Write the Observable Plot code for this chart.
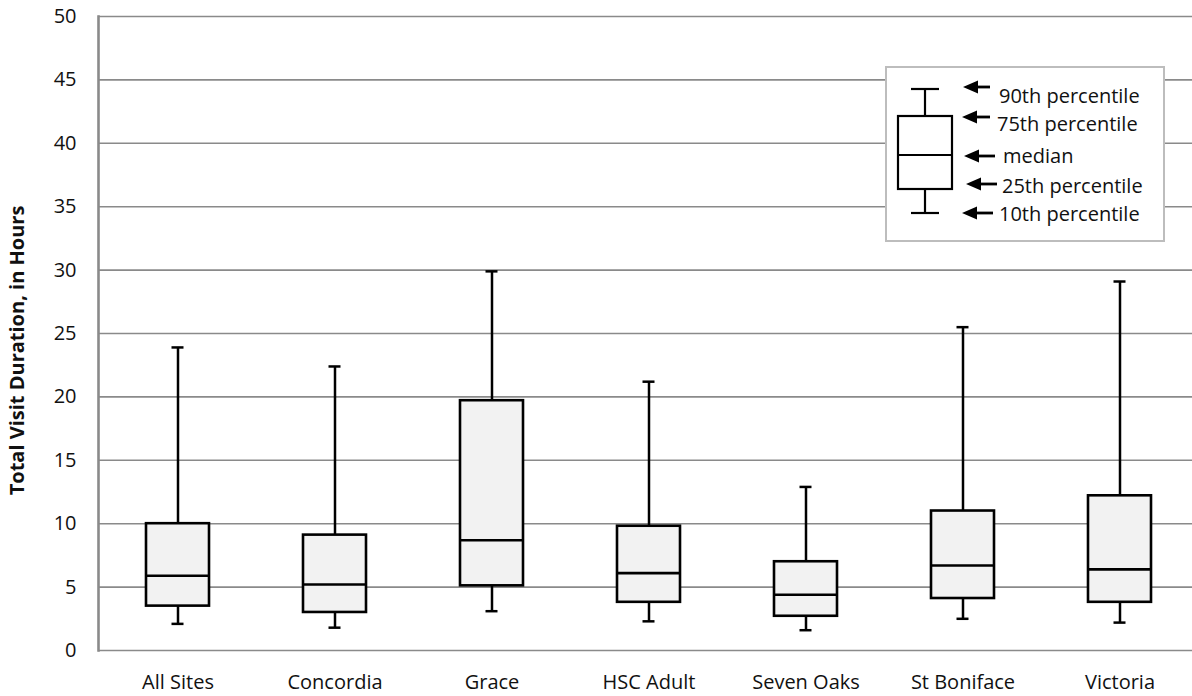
<!DOCTYPE html>
<html>
<head>
<meta charset="utf-8">
<script src="https://cdn.jsdelivr.net/npm/d3@7"></script>
<script src="https://cdn.jsdelivr.net/npm/@observablehq/plot@0.6"></script>
<style>
  html, body { margin: 0; padding: 0; background: #fff; overflow: hidden; }
  #chart { position: relative; width: 1192px; height: 696px; }
  #legend { position: absolute; left: 0; top: 0; pointer-events: none; }
</style>
</head>
<body>
<div id="chart"></div>
<script>
// Total visit duration by site (hours): 10th, 25th, median, 75th, 90th percentiles
const sites  = ["All Sites", "Concordia", "Grace", "HSC Adult", "Seven Oaks", "St Boniface", "Victoria"];
const p10    = [2.1, 1.8, 3.1, 2.3, 1.6, 2.5, 2.2];
const q1     = [3.5, 3.0, 5.1, 3.8, 2.7, 4.1, 3.8];
const median = [5.9, 5.2, 8.7, 6.1, 4.4, 6.7, 6.4];
const q3     = [10.0, 9.1, 19.7, 9.8, 7.0, 11.0, 12.2];
const p90    = [23.9, 22.4, 29.9, 21.2, 12.9, 25.5, 29.1];

const yTicks = [0, 5, 10, 15, 20, 25, 30, 35, 40, 45, 50];
const yLabel = "Total Visit Duration, in Hours";
const legendLabels = ["90th percentile", "75th percentile", "median", "25th percentile", "10th percentile"];

const rows = sites.map((site, i) => ({
  site, p10: p10[i], q1: q1[i], median: median[i], q3: q3[i], p90: p90[i]
}));

const font = "'Open Sans', 'Noto Sans', sans-serif";
const gridColor = "#8a8a8a";

const chart = Plot.plot({
  width: 1192,
  height: 696,
  marginTop: 16,
  marginBottom: 46,
  marginLeft: 98,
  marginRight: 0,
  style: { fontFamily: font, fontSize: "20px", color: "#111", background: "#fff" },
  x: { domain: sites, range: [98, 1199], paddingInner: 0.6, paddingOuter: 0.3, align: 0.5 },
  y: { domain: [0, 50], label: null },
  marks: [
    // horizontal gridlines (including the baseline at 0)
    Plot.ruleY(yTicks, { stroke: gridColor, strokeWidth: 1.6 }),
    // left axis line
    Plot.frame({ anchor: "left", stroke: gridColor, strokeWidth: 2.6 }),
    Plot.axisY({ ticks: yTicks, tickSize: 0, tickPadding: 22, fontSize: 20, label: null }),
    Plot.axisX({ tickSize: 0, tickPadding: 24, fontSize: 20, label: null }),
    Plot.text([yLabel], {
      frameAnchor: "left", textAnchor: "middle", rotate: -90, dx: -81, dy: 17,
      fontWeight: "bold", fontSize: 20, fill: "#111", text: d => d
    }),
    // whiskers
    Plot.ruleX(rows, { x: "site", y1: "q3", y2: "p90", stroke: "#000", strokeWidth: 2.5 }),
    Plot.ruleX(rows, { x: "site", y1: "p10", y2: "q1", stroke: "#000", strokeWidth: 2.5 }),
    // interquartile box
    Plot.barY(rows, { x: "site", y1: "q1", y2: "q3", fill: "#f2f2f2", stroke: "#000", strokeWidth: 2.6 }),
    // median
    Plot.tickY(rows, { x: "site", y: "median", stroke: "#000", strokeWidth: 2.6 }),
    // whisker caps
    Plot.tickY(rows, { x: "site", y: "p90", stroke: "#000", strokeWidth: 2.5, inset: 25.5 }),
    Plot.tickY(rows, { x: "site", y: "p10", stroke: "#000", strokeWidth: 2.5, inset: 25.5 })
  ]
});

const host = document.getElementById("chart");
host.appendChild(chart);

// Key explaining the box-and-whisker parts
const key = {
  left: 886, top: 67, right: 1164, bottom: 241,
  cx: 925, boxHalf: 27, capHalf: 14,
  cap90: 89, boxTop: 116, mid: 155, boxBottom: 189, cap10: 213
};
const arrows = [
  { tip: 963, end: 990, y: 87,  tx: 999,  ty: 102.5 },
  { tip: 962, end: 990, y: 117, tx: 997,  ty: 130.5 },
  { tip: 964, end: 995, y: 156, tx: 1003, ty: 162.5 },
  { tip: 966, end: 997, y: 184, tx: 1002, ty: 192.5 },
  { tip: 962, end: 993, y: 213, tx: 999,  ty: 221 }
];

const svg = d3.select(host).append("svg")
  .attr("id", "legend").attr("width", 1192).attr("height", 696);

svg.append("rect")
  .attr("x", key.left).attr("y", key.top)
  .attr("width", key.right - key.left).attr("height", key.bottom - key.top)
  .attr("fill", "#fff").attr("stroke", "#bdbdbd").attr("stroke-width", 2);

const g = svg.append("g").attr("stroke", "#000").attr("stroke-width", 2.2).attr("fill", "none");
g.append("line").attr("x1", key.cx).attr("x2", key.cx).attr("y1", key.cap90).attr("y2", key.boxTop);
g.append("line").attr("x1", key.cx).attr("x2", key.cx).attr("y1", key.boxBottom).attr("y2", key.cap10);
g.append("line").attr("x1", key.cx - key.capHalf).attr("x2", key.cx + key.capHalf).attr("y1", key.cap90).attr("y2", key.cap90);
g.append("line").attr("x1", key.cx - key.capHalf).attr("x2", key.cx + key.capHalf).attr("y1", key.cap10).attr("y2", key.cap10);
g.append("rect").attr("x", key.cx - key.boxHalf).attr("y", key.boxTop)
  .attr("width", key.boxHalf * 2).attr("height", key.boxBottom - key.boxTop).attr("fill", "#fff");
g.append("line").attr("x1", key.cx - key.boxHalf).attr("x2", key.cx + key.boxHalf).attr("y1", key.mid).attr("y2", key.mid);

arrows.forEach((a, i) => {
  svg.append("path")
    .attr("d", `M${a.tip},${a.y}L${a.tip + 15},${a.y - 6.5}L${a.tip + 15},${a.y + 6.5}Z`)
    .attr("fill", "#000");
  svg.append("line")
    .attr("x1", a.tip + 12).attr("x2", a.end).attr("y1", a.y).attr("y2", a.y)
    .attr("stroke", "#000").attr("stroke-width", 2.8);
  svg.append("text")
    .attr("x", a.tx).attr("y", a.ty)
    .attr("font-family", font).attr("font-size", 20).attr("fill", "#111")
    .text(legendLabels[i]);
});
</script>
</body>
</html>
